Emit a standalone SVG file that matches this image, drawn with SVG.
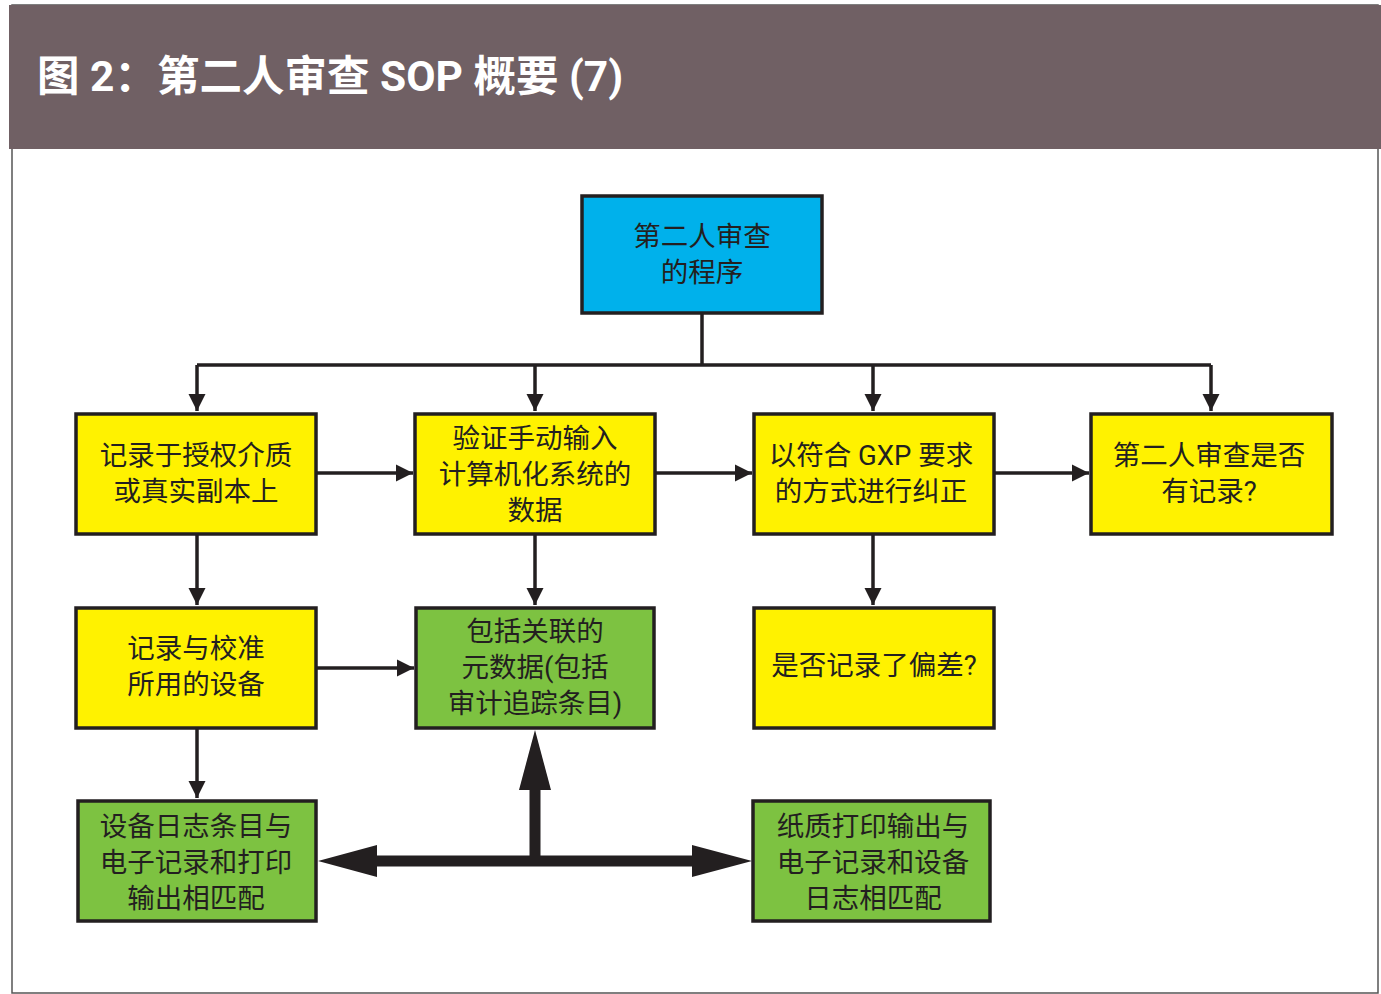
<svg xmlns="http://www.w3.org/2000/svg" width="1381" height="994" viewBox="0 0 1381 994">
<defs>
<style>
.n{stroke:#231f20;stroke-width:3.5}
.y{fill:#fff200}
.g{fill:#7dc241}
.b{fill:#00b1eb}
.t{font-family:"Roboto","Noto Sans CJK SC",sans-serif;font-size:27.5px;fill:#231f20;text-anchor:middle}
.c{stroke:#231f20;stroke-width:3.5;fill:none}
.k{stroke:#231f20;stroke-width:11;fill:none}
</style>
<marker id="a" viewBox="0 0 10 10" refX="10" refY="5" markerWidth="5" markerHeight="5" markerUnits="strokeWidth" orient="auto"><path d="M0,0L10,5L0,10z" fill="#231f20"/></marker>
</defs>
<rect width="1381" height="994" fill="#fff"/>
<rect x="12" y="5" width="1366" height="988" fill="#fff" stroke="#555" stroke-width="1.5"/>
<rect x="9" y="5" width="1372" height="144" fill="#706064"/>
<text x="37" y="91" font-family="Roboto,'Noto Sans CJK SC',sans-serif" font-size="42.5" font-weight="bold" fill="#fff">图 2：第二人审查 SOP 概要 (7)</text>
<g id="connectors">
<path class="c" d="M702,313V365M197,365H1211"/>
<path class="c" d="M197,365V411" marker-end="url(#a)"/>
<path class="c" d="M535,365V411" marker-end="url(#a)"/>
<path class="c" d="M873,365V411" marker-end="url(#a)"/>
<path class="c" d="M1211,365V411" marker-end="url(#a)"/>
<path class="c" d="M316,473H413" marker-end="url(#a)"/>
<path class="c" d="M655,473H752" marker-end="url(#a)"/>
<path class="c" d="M994,473H1089" marker-end="url(#a)"/>
<path class="c" d="M197,534V605" marker-end="url(#a)"/>
<path class="c" d="M535,534V605" marker-end="url(#a)"/>
<path class="c" d="M873,534V605" marker-end="url(#a)"/>
<path class="c" d="M316,668H414" marker-end="url(#a)"/>
<path class="c" d="M197,728V798" marker-end="url(#a)"/>
<path class="k" d="M376,861H692M535,861V788"/>
<path d="M318,861L377,845V877z" fill="#231f20"/>
<path d="M752,861L692,845V877z" fill="#231f20"/>
<path d="M535,730L519,790H551z" fill="#231f20"/>
</g>
<g id="n0"><rect class="n b" x="582" y="196" width="240" height="117"/><text class="t" x="702" y="246">第二人审查</text><text class="t" x="702" y="282">的程序</text></g>
<g id="n1"><rect class="n y" x="76" y="414" width="240" height="120"/><text class="t" x="196" y="465">记录于授权介质</text><text class="t" x="196" y="501">或真实副本上</text></g>
<g id="n2"><rect class="n y" x="415" y="414" width="240" height="120"/><text class="t" x="535" y="448">验证手动输入</text><text class="t" x="535" y="484">计算机化系统的</text><text class="t" x="535" y="520">数据</text></g>
<g id="n3"><rect class="n y" x="754" y="414" width="240" height="120"/><text class="t" x="871" y="465">以符合 GXP 要求</text><text class="t" x="871" y="501">的方式进行纠正</text></g>
<g id="n4"><rect class="n y" x="1091" y="414" width="241" height="120"/><text class="t" x="1209" y="465">第二人审查是否</text><text class="t" x="1209" y="501">有记录?</text></g>
<g id="n5"><rect class="n y" x="76" y="608" width="240" height="120"/><text class="t" x="196" y="658">记录与校准</text><text class="t" x="196" y="694">所用的设备</text></g>
<g id="n6"><rect class="n g" x="416" y="608" width="238" height="120"/><text class="t" x="535" y="641">包括关联的</text><text class="t" x="535" y="677">元数据(包括</text><text class="t" x="535" y="713">审计追踪条目)</text></g>
<g id="n7"><rect class="n y" x="754" y="608" width="240" height="120"/><text class="t" x="874" y="675">是否记录了偏差?</text></g>
<g id="n8"><rect class="n g" x="78" y="801" width="238" height="120"/><text class="t" x="196" y="836">设备日志条目与</text><text class="t" x="196" y="872">电子记录和打印</text><text class="t" x="196" y="908">输出相匹配</text></g>
<g id="n9"><rect class="n g" x="753" y="801" width="237" height="120"/><text class="t" x="873" y="836">纸质打印输出与</text><text class="t" x="873" y="872">电子记录和设备</text><text class="t" x="873" y="908">日志相匹配</text></g>
</svg>
